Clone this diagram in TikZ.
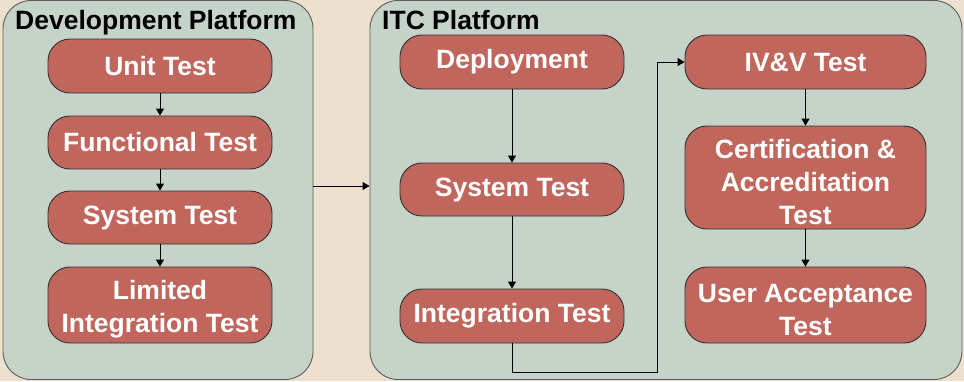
\documentclass[tikz,border=0pt]{standalone}
\usepackage{fontspec}
\setmainfont{Liberation Sans}
\usetikzlibrary{arrows.meta}
\definecolor{pagebg}{HTML}{EEE0CE}
\definecolor{panelfill}{HTML}{C5D3C8}
\definecolor{boxfill}{HTML}{C0665C}
\definecolor{edge}{HTML}{333333}
\tikzset{
  panel/.style={draw=edge!80, line width=0.9pt, fill=panelfill, rounded corners=28pt,
    minimum height=379pt, inner sep=0pt},
  stagefont/.style={text=white, align=center,
    font=\fontsize{26.5}{33}\selectfont\bfseries},
  stage/.style={draw=edge, line width=0.9pt, fill=boxfill, rounded corners=22pt,
    inner sep=0pt, stagefont},
  stagetext/.style={inner sep=0pt, stagefont},
  title/.style={anchor=base west, inner sep=0pt, text=black,
    font=\fontsize{26.5}{32}\selectfont\bfseries},
  arr/.style={line width=0.9pt, -{Triangle[length=7pt,width=8pt]}},
}
\begin{document}
\begin{tikzpicture}[x=1pt,y=-1pt]
  \fill[pagebg] (0,0) rectangle (964,381);
  \useasboundingbox (0,0) rectangle (964,381);

  % platforms
  \node[panel, minimum width=310pt] (devpanel) at (158,190) {};
  \node[panel, minimum width=592pt] (itcpanel) at (666,190) {};
  \node[title] (devtitle) at (15,29) {Development Platform};
  \node[title] (itctitle) at (382,29) {ITC Platform};

  % development stages
  \node[stage, minimum width=224pt, minimum height=54pt] (unit) at (160,66) {Unit Test};
  \node[stage, minimum width=224pt, minimum height=53pt] (func) at (160,142.5) {Functional Test};
  \node[stage, minimum width=224pt, minimum height=53pt] (sysdev) at (160,217.5) {System Test};
  \node[stage, minimum width=224pt, minimum height=76pt] (limint) at (160,305) {};
  \node[stagetext] (limintlabel) at ([yshift=-4pt]limint.center) {Limited\\Integration Test};

  % ITC stages
  \node[stage, minimum width=224pt, minimum height=54pt] (deploy) at (512,62) {Deployment};
  \node[stage, minimum width=224pt, minimum height=53pt] (sysitc) at (512,189.5) {System Test};
  \node[stage, minimum width=224pt, minimum height=54pt] (integ) at (512,316) {Integration Test};
  \node[stage, minimum width=241pt, minimum height=54pt] (ivv) at (805.5,62) {IV\&V Test};
  \node[stage, minimum width=241pt, minimum height=103pt] (cert) at (805.5,177.5) {};
  \node[stagetext] (certlabel) at ([yshift=-5pt]cert.center) {Certification \&\\Accreditation\\Test};
  \node[stage, minimum width=241pt, minimum height=76pt] (uat) at (805.5,305) {};
  \node[stagetext] (uatlabel) at ([yshift=-5pt]uat.center) {User Acceptance\\Test};

  % connectors
  \draw[arr] (unit) -- (func);
  \draw[arr] (func) -- (sysdev);
  \draw[arr] (sysdev) -- (limint);
  \draw[arr] ([yshift=4pt]devpanel.east) -- ([yshift=4pt]itcpanel.west);
  \draw[arr] (deploy) -- (sysitc);
  \draw[arr] (sysitc) -- (integ);
  \coordinate (turn) at (657,372);
  \draw[arr] (integ.south) |- (turn) |- (ivv.west);
  \draw[arr] (ivv) -- (cert);
  \draw[arr] (cert) -- (uat);
\end{tikzpicture}
\end{document}
